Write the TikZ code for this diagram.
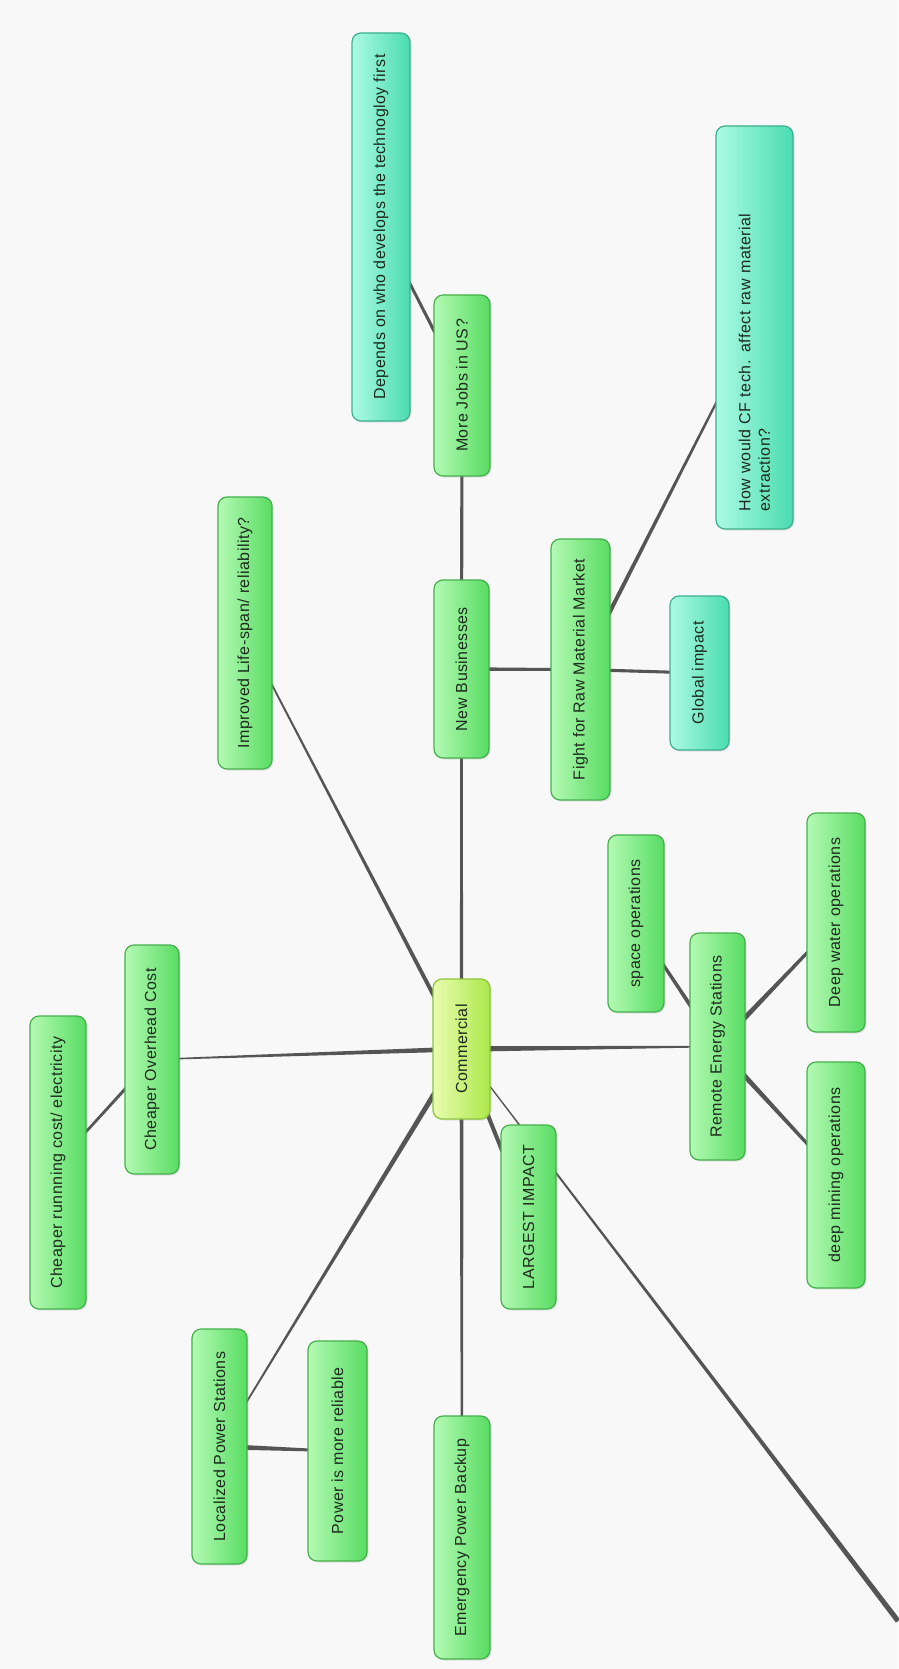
\documentclass[tikz,border=0pt]{standalone}
\usepackage{fontspec}
\setmainfont{Liberation Sans}[LetterSpace=3]
\usetikzlibrary{calc,shadows}
\definecolor{bgc}{HTML}{F8F8F8}
\definecolor{linec}{HTML}{555555}
\definecolor{txt}{HTML}{1E2A1E}
\definecolor{glight}{HTML}{B4FAB4}
\definecolor{gmid}{HTML}{84EE86}
\definecolor{gdark}{HTML}{58DC62}
\definecolor{gborder}{HTML}{44B04C}
\definecolor{tlight}{HTML}{ACFAE2}
\definecolor{tmid}{HTML}{78F0CC}
\definecolor{tdark}{HTML}{4ADCB0}
\definecolor{tborder}{HTML}{3CB08E}
\definecolor{clight}{HTML}{EAFCB0}
\definecolor{cmid}{HTML}{CCF47A}
\definecolor{cdark}{HTML}{ACE84A}
\definecolor{cborder}{HTML}{8CC43C}
\pgfdeclarelayer{bg}
\pgfsetlayers{bg,main}
\newcommand\taper[4]{\fill[linec] ($(#1)!#3!90:(#2)$) -- ($(#1)!#3!-90:(#2)$) -- ($(#2)!#4!90:(#1)$) -- ($(#2)!#4!-90:(#1)$) -- cycle;}
\tikzset{
  box/.style={rounded corners=9pt, draw=gborder, line width=1.2pt,
    left color=glight, middle color=gmid, right color=gdark,
    drop shadow={opacity=0.18, shadow xshift=1.5pt, shadow yshift=-1.5pt},
    rotate=90, inner sep=0pt, text=txt, font=\fontsize{16}{19.5}\selectfont},
  tealbox/.style={box, draw=tborder, left color=tlight, middle color=tmid, right color=tdark},
  centralbox/.style={box, draw=cborder, left color=clight, middle color=cmid, right color=cdark},
  sz/.style 2 args={minimum width=#1pt, minimum height=#2pt}
}
\begin{document}
\begin{tikzpicture}[x=1pt,y=-1pt]
\useasboundingbox (0,0) rectangle (898,1669);
% nodes
\node[tealbox, sz={388}{58}] (depends) at (381,227) {Depends on who develops the technogloy first};
\node[box, sz={181}{56}] (morejobs) at (462,385.5) {More Jobs in US?};
\node[tealbox, sz={403}{77}, align=left, text width=368pt] (howcf) at (754.5,327.5) {How would CF tech. affect raw material\\extraction?};
\node[box, sz={272}{54}] (improved) at (245,633) {Improved Life-span/ reliability?};
\node[box, sz={178}{55}] (newbiz) at (461.5,669) {New Businesses};
\node[box, sz={261}{59}] (fight) at (580.5,669.5) {Fight for Raw Material Market};
\node[tealbox, sz={154}{59}] (global) at (699.5,673) {Global impact};
\node[box, sz={229}{54}] (overhead) at (152,1059.5) {Cheaper Overhead Cost};
\node[box, sz={293}{56}] (running) at (58,1162.5) {Cheaper runnning cost/ electricity};
\node[centralbox, sz={140}{57}] (commercial) at (461.5,1049) {Commercial};
\node[box, sz={177}{56}] (space) at (636,923.5) {space operations};
\node[box, sz={227}{55}] (remote) at (717.5,1046.5) {Remote Energy Stations};
\node[box, sz={219}{58}] (deepwater) at (836,922.5) {Deep water operations};
\node[box, sz={226}{58}] (deepmining) at (836,1175) {deep mining operations};
\node[box, sz={184}{55}] (largest) at (528.5,1217) {LARGEST IMPACT};
\node[box, sz={235}{55}] (localized) at (219.5,1446.5) {Localized Power Stations};
\node[box, sz={220}{59}] (reliable) at (337.5,1451) {Power is more reliable};
\node[box, sz={243}{56}] (emergency) at (462,1537.5) {Emergency Power Backup};
\coordinate (far) at (898,1621);
% connectors
\begin{pgfonlayer}{bg}
\fill[bgc] (0,0) rectangle (898,1669);
\taper{commercial}{remote}{2.8pt}{0.7pt}
\taper{commercial}{newbiz}{1.7pt}{1.2pt}
\taper{commercial}{improved}{2.2pt}{0.7pt}
\taper{commercial}{overhead}{2.5pt}{0.6pt}
\taper{commercial}{localized}{2.8pt}{0.6pt}
\taper{commercial}{emergency}{2pt}{0.9pt}
\taper{commercial}{largest}{2.2pt}{1.8pt}
\taper{commercial}{far}{0.5pt}{2.6pt}
\taper{overhead}{running}{1.6pt}{1.2pt}
\taper{newbiz}{morejobs}{1.6pt}{1.5pt}
\taper{morejobs}{depends}{1.8pt}{1.2pt}
\taper{newbiz}{fight}{1.8pt}{1.3pt}
\taper{fight}{global}{1.6pt}{1.5pt}
\taper{fight}{howcf}{2.3pt}{0.8pt}
\taper{remote}{space}{2.3pt}{1.2pt}
\taper{remote}{deepwater}{2.8pt}{1.2pt}
\taper{remote}{deepmining}{2.8pt}{1.2pt}
\taper{localized}{reliable}{2.8pt}{1pt}
\end{pgfonlayer}
\end{tikzpicture}
\end{document}
